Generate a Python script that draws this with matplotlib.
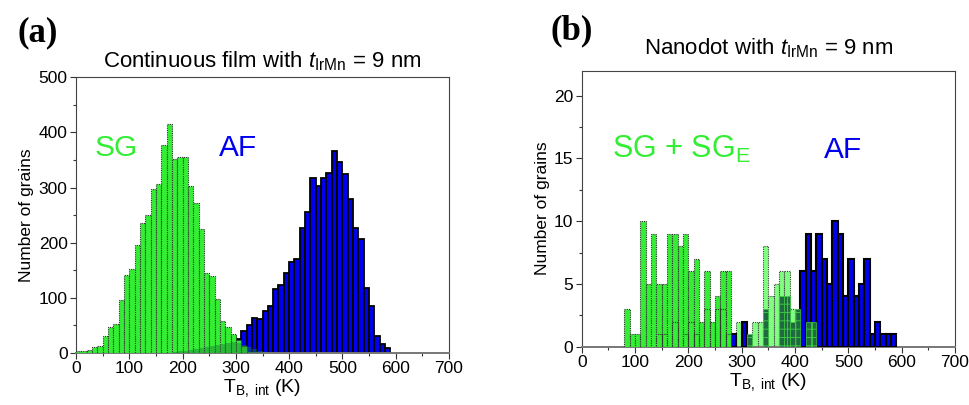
import numpy as np
import matplotlib
matplotlib.use("Agg")
import matplotlib.pyplot as plt
from matplotlib.ticker import MultipleLocator

plt.rcParams['font.family'] = ['Liberation Sans', 'DejaVu Sans']
plt.rcParams['mathtext.fontset'] = 'custom'
plt.rcParams['mathtext.rm'] = 'Liberation Sans'
plt.rcParams['mathtext.it'] = 'Liberation Sans:italic'
plt.rcParams['hatch.linewidth'] = 0.6

BIN = 10  # K

# ---------------- Panel (a): continuous film ----------------
sg_a_start = 0
sg_a_counts = [4, 4, 5, 10, 12, 31, 47, 53, 96, 141, 152, 196, 236, 250, 298, 307,
               378, 416, 352, 356, 355, 303, 272, 225, 145, 139, 98, 57, 46, 34, 23, 12]
sge_a_start = 180
sge_a_counts = [2, 3, 4, 5, 6, 8, 10, 12, 14, 16, 18, 20, 18, 14, 10, 6, 3]
af_a_start = 280
af_a_counts = [8, 28, 25, 40, 50, 64, 61, 75, 85, 116, 123, 145, 164, 170, 227, 255,
               317, 302, 318, 327, 367, 346, 324, 279, 226, 207, 117, 84, 30, 15, 8]

# ---------------- Panel (b): nanodot ----------------
sg_b_start = 80
sg_b_counts = [3, 1, 1, 10, 5, 9, 5, 5, 9, 9, 8, 9, 6, 7, 2, 6, 2, 4, 6, 6]
sg_b_inner_bins = [140, 150, 170, 190, 200, 210, 230, 250, 260, 270]
sg_b_inner_counts = [1, 1, 2, 1, 2, 1, 3, 3, 3, 1]
sge_b_start = 290
sge_b_counts = [2, 0, 0, 2, 2, 8, 4, 5, 6, 6, 3, 3]
ovl_b_bins = [310, 340, 370, 380, 390, 400, 420, 430]
ovl_b_counts = [1, 3, 4, 4, 2, 3, 2, 2]
af_b_bins = [280, 300, 410, 420, 430, 440, 450, 460, 470, 480, 490, 500, 510, 520,
             530, 540, 550, 560, 570, 580]
af_b_counts = [1, 2, 6, 9, 6, 9, 7, 5, 10, 9, 4, 7, 4, 5, 7, 1, 2, 1, 1, 1]

GREEN = '#33EE33'
LGREEN = '#80FF80'
BLUE = '#0000F0'
DOT = (0, (1, 1))


def edges(start, counts):
    return start + BIN * np.arange(len(counts))


def style_axes(ax, xmax, ymax, ymaj, ymin):
    ax.set_xlim(0, xmax)
    ax.set_ylim(0, ymax)
    ax.xaxis.set_major_locator(MultipleLocator(100))
    ax.xaxis.set_minor_locator(MultipleLocator(50))
    ax.yaxis.set_major_locator(MultipleLocator(ymaj))
    ax.yaxis.set_minor_locator(MultipleLocator(ymin))
    ax.tick_params(which='both', direction='out', labelsize=12.5, width=0.8,
                   top=False, right=False, color='#333333', pad=2)
    ax.tick_params(which='major', length=4)
    ax.tick_params(which='minor', length=2.5)
    for s in ax.spines.values():
        s.set_color('#444444')
        s.set_linewidth(0.8)
    ax.spines['bottom'].set_color('#777777')
    ax.spines['bottom'].set_linewidth(1.4)


fig = plt.figure(figsize=(9.69, 4.05), dpi=100)
axa = fig.add_axes([0.0784, 0.129, 0.385, 0.680])
axb = fig.add_axes([0.6003, 0.144, 0.3852, 0.6815])

# ---- panel (a) ----
axa.bar(edges(af_a_start, af_a_counts), af_a_counts, width=BIN, align='edge',
        color=BLUE, edgecolor='black', linewidth=1.3, zorder=2)
axa.bar(edges(sg_a_start, sg_a_counts), sg_a_counts, width=BIN, align='edge',
        color=GREEN, edgecolor='#303030', linewidth=0.8, linestyle=DOT, zorder=3)
axa.bar(edges(sge_a_start, sge_a_counts), sge_a_counts, width=BIN, align='edge',
        color='#1d7a3a', alpha=0.45, edgecolor='none', zorder=4)
style_axes(axa, 700, 500, 100, 50)
axa.set_ylabel('Number of grains', fontsize=12.5, labelpad=3)
axa.set_xlabel(r'T$_{\mathrm{B,\ int}}$ (K)', fontsize=14, labelpad=1)
axa.set_title(r'Continuous film with $\mathit{t}_{\mathrm{IrMn}}$ = 9 nm',
              fontsize=16, pad=7)
axa.text(75, 372, 'SG', color=GREEN, fontsize=21.5, ha='center', va='center')
axa.text(304, 372, 'AF', color=BLUE, fontsize=21.5, ha='center', va='center')
fig.text(0.018, 0.92, '(a)', fontsize=25, fontweight='bold',
         family='Liberation Serif', ha='left', va='center')

# ---- panel (b) ----
axb.bar(edges(sge_b_start, sge_b_counts), sge_b_counts, width=BIN, align='edge',
        color=LGREEN, edgecolor='#404040', linewidth=0.8, linestyle=DOT, zorder=2)
axb.bar(af_b_bins, af_b_counts, width=BIN, align='edge',
        color=BLUE, edgecolor='black', linewidth=1.5, zorder=3)
axb.bar(edges(sg_b_start, sg_b_counts), sg_b_counts, width=BIN, align='edge',
        color=GREEN, edgecolor='#303030', linewidth=0.8, linestyle=DOT, zorder=4)
axb.bar(sg_b_inner_bins, sg_b_inner_counts, width=BIN, align='edge',
        fill=False, edgecolor='#303030', linewidth=0.8, linestyle=DOT, zorder=5)
axb.bar(ovl_b_bins, ovl_b_counts, width=BIN, align='edge',
        color='#1f6a40', hatch='++', edgecolor='#3fcf3f', linewidth=0.5, zorder=5)
style_axes(axb, 700, 22, 5, 2.5)
axb.set_ylabel('Number of grains', fontsize=12.5, labelpad=3)
axb.set_xlabel(r'T$_{\mathrm{B,\ int}}$ (K)', fontsize=14, labelpad=1)
axb.set_title(r'Nanodot with $\mathit{t}_{\mathrm{IrMn}}$ = 9 nm',
              fontsize=16, pad=12)
axb.text(57, 15.7, r'SG + SG$_{\mathrm{E}}$', color=GREEN, fontsize=22,
         ha='left', va='center')
axb.text(490, 15.7, 'AF', color=BLUE, fontsize=21.5, ha='center', va='center')
fig.text(0.568, 0.925, '(b)', fontsize=25, fontweight='bold',
         family='Liberation Serif', ha='left', va='center')

fig.savefig('out.png', dpi=100)
